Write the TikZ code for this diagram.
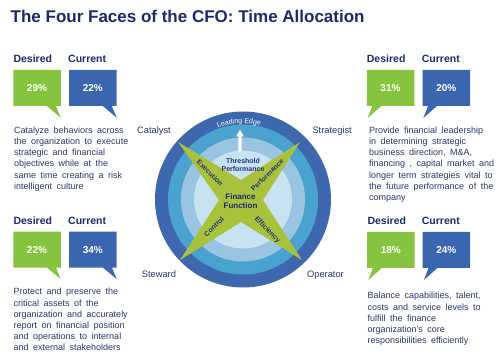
\documentclass[tikz,border=0pt]{standalone}
\usepackage{fontspec}
\setmainfont{Liberation Sans}
\newfontfamily\descfont[WordSpace=1.8]{Liberation Sans}
\usetikzlibrary{shapes.callouts,decorations.text}
\definecolor{navy}{HTML}{1B2A6B}
\definecolor{descC}{HTML}{2B3566}
\definecolor{cgreen}{HTML}{86C440}
\definecolor{cblue}{HTML}{3A66B0}
\definecolor{ringA}{HTML}{3D68AE}
\definecolor{ringB}{HTML}{4AA3CF}
\definecolor{ringC}{HTML}{9AC5E2}
\definecolor{ringD}{HTML}{C7E3F1}
\definecolor{starG}{HTML}{A8C23C}
\definecolor{armC}{HTML}{22347A}
\begin{document}
\begin{tikzpicture}[x=1pt,y=1pt,
  callbox/.style={rectangle callout, minimum width=47.5pt, minimum height=36pt, inner sep=0pt, outer sep=0pt, callout pointer width=9pt, text=white, font=\bfseries\fontsize{10}{12}\selectfont},
  gbox/.style={callbox, fill=cgreen},
  bbox/.style={callbox, fill=cblue},
  hdr/.style={anchor=base west, inner sep=0pt, text=navy, font=\bfseries\fontsize{10.5}{12}\selectfont},
  desc/.style={anchor=north west, inner sep=0pt, align=left, text=descC, font=\descfont\fontsize{9}{11.2}\selectfont},
  face/.style={inner sep=0pt, text=descC, font=\fontsize{9.3}{11}\selectfont},
  ring/.style={circle, inner sep=0pt, outer sep=0pt, minimum size=#1},
  armlbl/.style={inner sep=0pt, text=armC, font=\bfseries\fontsize{7}{7.6}\selectfont},
]
\fill[white] (0,0) rectangle (500,-363);
\useasboundingbox (0,0) rectangle (500,-363);

% title
\node[anchor=base west, inner sep=0pt, text=navy, font=\bfseries\fontsize{17}{20}\selectfont] (title) at (10.5,-22.7) {The Four Faces of the CFO: Time Allocation};

% rings
\coordinate (C) at (243,-199.5);
\node[ring=176pt, fill=ringA] (r1) at (C) {};
\node[ring=150pt, fill=ringB] (r2) at (C) {};
\node[ring=124pt, fill=ringC] (r3) at (C) {};
\node[ring=98pt, fill=ringD] (r4) at (C) {};

% leading edge text
\path[decorate, decoration={text along path, text={|\color{white}\fontsize{7}{8}\selectfont|Leading Edge}, text align=center}]
  ([shift={(118:76)}]C) arc[start angle=118, end angle=68, radius=76];

% white arrow
\fill[white] (238.4,-151.3) -- (238.4,-136.3) -- (236.2,-136.3) -- (240,-129.7) -- (243.8,-136.3) -- (241.6,-136.3) -- (241.6,-151.3) -- cycle;

% star
\fill[starG] (178,-142) -- (241,-180) -- (300,-142) -- (263,-200) -- (302,-260) -- (241,-222) -- (180,-260) -- (219,-200) -- cycle;

\node[armlbl, align=center] (thr) at (243,-164.8) {Threshold\\Performance};
\node[inner sep=0pt, align=center, text=navy, font=\bfseries\fontsize{8}{9}\selectfont] (ff) at (240.5,-201.5) {Finance\\Function};
\node[armlbl, rotate=-45] (exe) at (210,-173) {Execution};
\node[armlbl, rotate=45] (perf) at (267.3,-175) {Performance};
\node[armlbl, rotate=45] (ctrl) at (214,-226.7) {Control};
\node[armlbl, rotate=-45] (eff) at (267.3,-230) {Efficiency};

% faces
\node[face, anchor=base west] (catalyst) at (137,-133.3) {Catalyst};
\node[face, anchor=base east] (strategist) at (352,-133.3) {Strategist};
\node[face, anchor=base west] (steward) at (141.7,-277.3) {Steward};
\node[face, anchor=base east] (operator) at (344,-277.3) {Operator};

% headers
\node[hdr] (tlDh) at (13.3,-62.8) {Desired};
\node[hdr] (tlCh) at (68,-62.8) {Current};
\node[hdr] (trDh) at (366.7,-62.8) {Desired};
\node[hdr] (trCh) at (421.7,-62.8) {Current};
\node[hdr] (blDh) at (13.3,-224.8) {Desired};
\node[hdr] (blCh) at (68,-224.8) {Current};
\node[hdr] (brDh) at (367.3,-224.5) {Desired};
\node[hdr] (brCh) at (421.7,-224.5) {Current};

% callouts
\node[gbox, callout absolute pointer={(60.7,-117.7)}] (tlD) at (37,-88) {29\%};
\node[bbox, callout absolute pointer={(116.7,-117.7)}] (tlC) at (92.85,-88) {22\%};
\node[gbox, callout absolute pointer={(367.7,-118)}] (trD) at (390.5,-88) {31\%};
\node[bbox, callout absolute pointer={(423.3,-118)}] (trC) at (446.35,-88) {20\%};
\node[gbox, callout absolute pointer={(60.7,-279)}] (blD) at (37,-249.7) {22\%};
\node[bbox, callout absolute pointer={(116.7,-279)}] (blC) at (92.85,-249.7) {34\%};
\node[gbox, callout absolute pointer={(368.3,-280)}] (brD) at (390.8,-249.8) {18\%};
\node[bbox, callout absolute pointer={(424,-280)}] (brC) at (446.35,-249.8) {24\%};

% descriptions
\node[desc] (tlT) at (14,-126.5) {Catalyze behaviors across\\the organization to execute\\strategic and financial\\objectives while at the\\same time creating a risk\\intelligent culture};
\node[desc] (trT) at (369,-126.5) {Provide financial leadership\\in determining strategic\\business direction, M\&A,\\financing , capital market and\\longer term strategies vital to\\the future performance of the\\company};
\node[desc] (blT) at (13.5,-288.1) {Protect and preserve the\\critical assets of the\\organization and accurately\\report on financial position\\and operations to internal\\and external stakeholders};
\node[desc] (brT) at (367.3,-292.1) {Balance capabilities, talent,\\costs and service levels to\\fulfill the finance\\organization’s core\\responsibilities efficiently};
\end{tikzpicture}
\end{document}
